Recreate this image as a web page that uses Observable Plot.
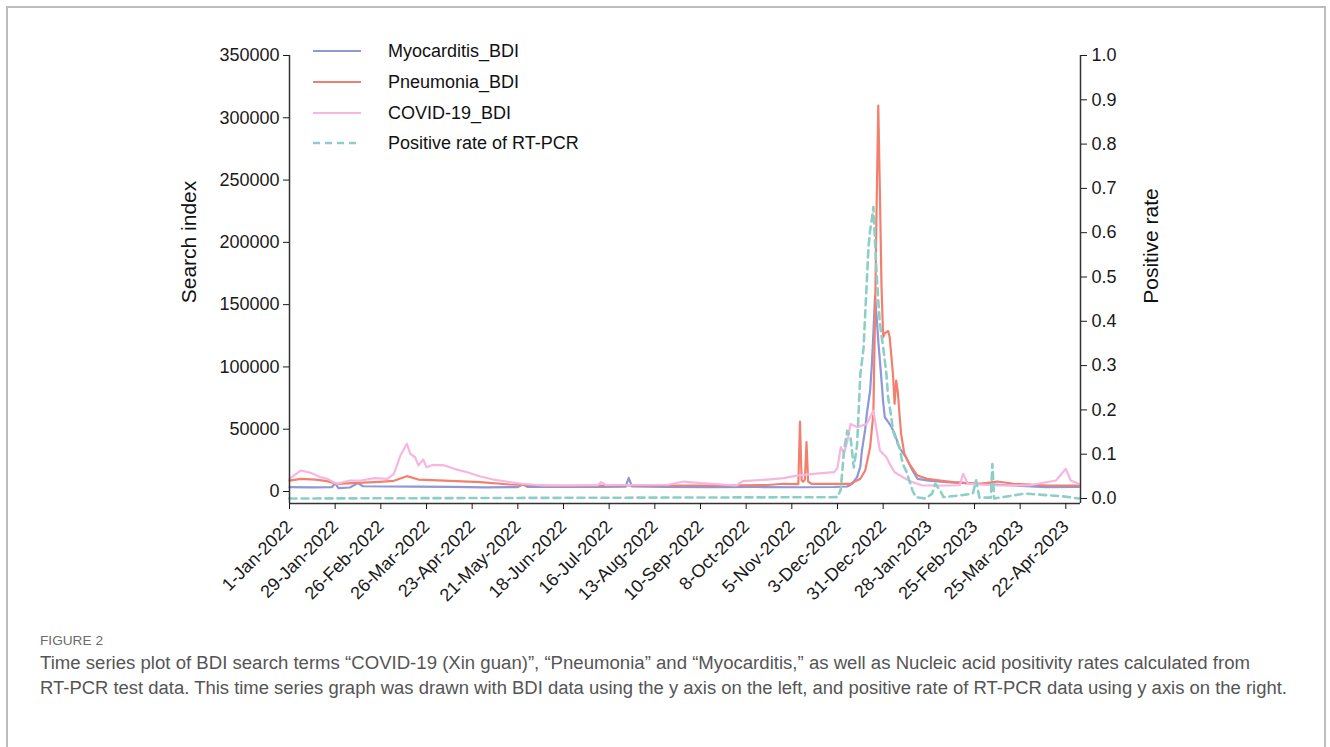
<!DOCTYPE html>
<html>
<head>
<meta charset="utf-8">
<script src="https://cdn.jsdelivr.net/npm/d3@7"></script>
<script src="https://cdn.jsdelivr.net/npm/@observablehq/plot@0.6"></script>
<style>
  html, body { margin: 0; padding: 0; background: #fff; }
  body { width: 1330px; height: 747px; position: relative; overflow: hidden; font-family: "Liberation Sans", Arial, sans-serif; }
  #border { position: absolute; left: 6px; top: 6px; width: 1316px; height: 780px; border: 2px solid #bdbdbd; }
  #chart { position: absolute; left: 0; top: 0; }
  .ytitle { position: absolute; font-size: 21px; color: #111; white-space: nowrap; transform: translate(-50%, -50%) rotate(-90deg); }
  #legend { position: absolute; left: 0; top: 0; }
  .leg-row { position: absolute; font-size: 18px; color: #111; white-space: nowrap; }
  #caption { position: absolute; left: 0; top: 620px; }
</style>
</head>
<body>
<div id="border"></div>
<div id="chart"></div>
<div id="legend"></div>
<svg id="caption" width="1330" height="110"></svg>
<script>
// ---------- data ----------
const seriesNames = ["Myocarditis_BDI", "Pneumonia_BDI", "COVID-19_BDI", "Positive rate of RT-PCR"];
const seriesColors = ["#8f97d6", "#f2806f", "#f6b6df", "#8dcfc6"];

const myocarditis = [
  ["2022-01-01",3500],["2022-01-15",3300],["2022-01-27",3400],["2022-01-29",6700],["2022-01-31",2700],
  ["2022-02-07",3200],["2022-02-12",6700],["2022-02-15",4200],["2022-03-01",4000],["2022-03-20",3900],
  ["2022-04-10",3700],["2022-05-01",3300],["2022-05-21",3500],["2022-05-24",5800],["2022-05-27",3600],
  ["2022-06-15",3700],["2022-07-10",3600],["2022-07-26",3800],["2022-07-28",11000],["2022-07-30",4000],
  ["2022-08-20",3700],["2022-09-15",3500],["2022-10-15",3600],["2022-11-10",3400],["2022-12-01",3600],
  ["2022-12-09",4000],["2022-12-12",6200],["2022-12-15",11500],["2022-12-17",20000],["2022-12-18",33000],
  ["2022-12-20",50000],["2022-12-21",62600],["2022-12-23",81000],["2022-12-24",100000],["2022-12-25",126800],
  ["2022-12-26",157000],["2022-12-27",140000],["2022-12-28",121000],["2022-12-29",105000],["2022-12-30",89000],
  ["2022-12-31",72000],["2023-01-01",59600],["2023-01-03",56000],["2023-01-05",52000],["2023-01-07",46500],
  ["2023-01-10",35000],["2023-01-14",27500],["2023-01-18",16900],["2023-01-21",10200],["2023-01-28",8800],
  ["2023-02-08",7500],["2023-02-28",6200],["2023-03-21",4800],["2023-04-10",3500],["2023-04-30",3600]
];

const pneumonia = [
  ["2022-01-01",8800],["2022-01-08",10200],["2022-01-17",9500],["2022-01-24",8300],["2022-01-30",6200],
  ["2022-02-12",7000],["2022-02-25",7800],["2022-03-06",8600],["2022-03-14",12300],["2022-03-21",9600],
  ["2022-04-06",8800],["2022-04-28",7500],["2022-05-16",5600],["2022-06-06",4800],["2022-06-16",4600],
  ["2022-07-15",4800],["2022-08-20",4800],["2022-09-20",4800],["2022-10-21",5200],["2022-10-31",6200],
  ["2022-11-09",6000],["2022-11-10",56200],["2022-11-11",9000],["2022-11-12",8000],["2022-11-13",9500],
  ["2022-11-14",39600],["2022-11-15",8000],["2022-11-17",6200],["2022-12-01",6200],["2022-12-11",6200],
  ["2022-12-17",10200],["2022-12-20",16900],["2022-12-23",35600],["2022-12-25",62600],["2022-12-26",140000],
  ["2022-12-27",230000],["2022-12-28",309800],["2022-12-29",240000],["2022-12-30",164000],["2022-12-31",124000],
  ["2023-01-01",127000],["2023-01-03",129000],["2023-01-04",124000],["2023-01-06",94500],["2023-01-07",70400],
  ["2023-01-08",89000],["2023-01-09",80000],["2023-01-10",62400],["2023-01-11",46300],["2023-01-13",30300],
  ["2023-01-16",22200],["2023-01-21",12800],["2023-01-27",10200],["2023-02-04",8800],["2023-02-12",7500],
  ["2023-02-28",6200],["2023-03-11",8000],["2023-03-21",6200],["2023-04-10",4800],["2023-04-30",4800]
];

const covid = [
  ["2022-01-01",10200],["2022-01-08",16900],["2022-01-14",15000],["2022-01-20",11500],["2022-01-24",10200],
  ["2022-01-30",6200],["2022-02-07",8800],["2022-02-14",8800],["2022-02-22",10700],["2022-03-02",10200],
  ["2022-03-06",14200],["2022-03-10",28900],["2022-03-14",38300],["2022-03-16",30300],["2022-03-19",27500],
  ["2022-03-21",20900],["2022-03-24",25700],["2022-03-26",19500],["2022-03-30",21400],["2022-04-06",20900],
  ["2022-04-12",18200],["2022-04-20",15500],["2022-04-28",12000],["2022-05-06",9600],["2022-05-14",8000],
  ["2022-05-23",6200],["2022-06-06",4800],["2022-06-16",4800],["2022-07-09",5000],["2022-07-11",7500],
  ["2022-07-14",5200],["2022-08-21",5400],["2022-08-31",8000],["2022-09-10",6700],["2022-10-02",4800],
  ["2022-10-06",8300],["2022-10-21",9600],["2022-10-31",10700],["2022-11-08",12800],["2022-11-18",14200],
  ["2022-12-01",15500],["2022-12-03",19000],["2022-12-05",35600],["2022-12-07",31000],["2022-12-09",40000],
  ["2022-12-11",54300],["2022-12-15",51600],["2022-12-21",54300],["2022-12-25",65000],["2022-12-27",49000],
  ["2022-12-29",32900],["2023-01-02",27500],["2023-01-04",22200],["2023-01-07",15500],["2023-01-12",11500],
  ["2023-01-18",7500],["2023-01-24",4800],["2023-02-08",4800],["2023-02-16",5000],["2023-02-18",14200],
  ["2023-02-21",6200],["2023-03-11",4800],["2023-03-31",5000],["2023-04-16",8800],["2023-04-22",18200],
  ["2023-04-25",8800],["2023-04-30",6200]
];

const positiveRate = [
  ["2022-01-01",0],["2022-12-03",0.003],["2022-12-05",0.02],["2022-12-07",0.108],["2022-12-09",0.153],
  ["2022-12-11",0.138],["2022-12-13",0.07],["2022-12-15",0.12],["2022-12-17",0.28],["2022-12-19",0.34],
  ["2022-12-20",0.417],["2022-12-21",0.492],["2022-12-22",0.567],["2022-12-23",0.605],["2022-12-24",0.628],
  ["2022-12-25",0.658],["2022-12-26",0.582],["2022-12-27",0.507],["2022-12-28",0.447],["2022-12-29",0.394],
  ["2022-12-31",0.342],["2023-01-02",0.281],["2023-01-03",0.229],["2023-01-05",0.184],["2023-01-06",0.153],
  ["2023-01-08",0.131],["2023-01-10",0.116],["2023-01-12",0.078],["2023-01-14",0.063],["2023-01-16",0.041],
  ["2023-01-18",0.018],["2023-01-20",0.003],["2023-01-26",0],["2023-01-30",0.011],["2023-02-01",0.033],
  ["2023-02-04",0.018],["2023-02-06",0.003],["2023-02-16",0.007],["2023-02-24",0.011],["2023-02-26",0.041],
  ["2023-02-28",0.002],["2023-03-07",0.002],["2023-03-08",0.078],["2023-03-09",0],["2023-03-28",0.011],
  ["2023-04-20",0.005],["2023-04-30",0]
];

const xTickDates = ["2022-01-01","2022-01-29","2022-02-26","2022-03-26","2022-04-23","2022-05-21",
  "2022-06-18","2022-07-16","2022-08-13","2022-09-10","2022-10-08","2022-11-05","2022-12-03",
  "2022-12-31","2023-01-28","2023-02-25","2023-03-25","2023-04-22"];
const leftTicks = [0, 50000, 100000, 150000, 200000, 250000, 300000, 350000];
const rightTicks = [0, 0.1, 0.2, 0.3, 0.4, 0.5, 0.6, 0.7, 0.8, 0.9, 1.0];
const leftTitle = "Search index";
const rightTitle = "Positive rate";
const figureLabel = "FIGURE 2";
const captionLines = [
  "Time series plot of BDI search terms \u201cCOVID-19 (Xin guan)\u201d, \u201cPneumonia\u201d and \u201cMyocarditis,\u201d as well as Nucleic acid positivity rates calculated from",
  "RT-PCR test data. This time series graph was drawn with BDI data using the y axis on the left, and positive rate of RT-PCR data using y axis on the right."
];

// ---------- scales ----------
const xStart = new Date("2022-01-01"), xEnd = new Date("2023-05-01");
const yMin = -9633, yMax = 350000;   // left axis (search index)
const rMin = -0.0113, rMax = 1.0;    // right axis (positive rate), same pixel range
const rToY = r => yMin + (r - rMin) / (rMax - rMin) * (yMax - yMin);
const yToR = y => rMin + (y - yMin) / (yMax - yMin) * (rMax - rMin);

const toRows = s => s.map(([d, v]) => ({date: new Date(d), value: v}));
const rateRows = positiveRate.map(([d, v]) => ({date: new Date(d), value: rToY(v)}));
const fmt = d3.utcFormat("%-d-%b-%Y");

const chart = Plot.plot({
  width: 1330,
  height: 620,
  marginLeft: 289,
  marginRight: 250,
  marginTop: 55,
  marginBottom: 117,
  x: {type: "utc", domain: [xStart, xEnd]},
  y: {domain: [yMin, yMax]},
  style: {fontFamily: "'Liberation Sans', Arial, sans-serif", fontSize: "18px", color: "#1a1a1a", background: "transparent", overflow: "visible"},
  marks: [
    Plot.lineY(toRows(myocarditis), {x: "date", y: "value", stroke: seriesColors[0], strokeWidth: 2.2}),
    Plot.lineY(toRows(pneumonia), {x: "date", y: "value", stroke: seriesColors[1], strokeWidth: 2.2}),
    Plot.lineY(toRows(covid), {x: "date", y: "value", stroke: seriesColors[2], strokeWidth: 2.2}),
    Plot.lineY(rateRows, {x: "date", y: "value", stroke: seriesColors[3], strokeWidth: 2.6, strokeDasharray: "7,5"}),
    Plot.ruleY([yMin], {stroke: "#333", strokeWidth: 1.5}),
    Plot.ruleX([xStart, xEnd], {stroke: "#333", strokeWidth: 1.5}),
    Plot.axisY(leftTicks, {anchor: "left", tickSize: 6, tickPadding: 4, label: null, fontSize: 18, tickFormat: d => String(d)}),
    Plot.axisY(rightTicks.map(rToY), {anchor: "right", tickSize: 6, tickPadding: 5, label: null, fontSize: 18, tickFormat: d => yToR(d).toFixed(1)}),
    Plot.axisX(xTickDates.map(d => new Date(d)), {anchor: "bottom", tickSize: 6, tickPadding: 14, tickRotate: -45, label: null, fontSize: 18, tickFormat: fmt})
  ]
});
document.getElementById("chart").appendChild(chart);

// ---------- axis titles ----------
function addTitle(text, cx, cy) {
  const el = document.createElement("div");
  el.className = "ytitle";
  el.textContent = text;
  el.style.left = cx + "px";
  el.style.top = cy + "px";
  document.body.appendChild(el);
}
addTitle(leftTitle, 189, 242);
addTitle(rightTitle, 1151, 246);

// ---------- legend ----------
const legend = document.getElementById("legend");
seriesNames.forEach((name, i) => {
  const y = 51 + i * 30.8;
  const row = document.createElement("div");
  row.className = "leg-row";
  row.style.left = "313px";
  row.style.top = (y - 11) + "px";
  const dash = i === 3 ? 'stroke-dasharray="7,5"' : "";
  row.innerHTML = `<svg width="50" height="22" style="vertical-align:top"><line x1="0" x2="48" y1="11" y2="11" stroke="${seriesColors[i]}" stroke-width="${i === 3 ? 2.6 : 2}" ${dash}/></svg><span style="position:absolute;left:75px;top:0;line-height:22px">${name}</span>`;
  legend.appendChild(row);
});

// ---------- caption ----------
const cap = d3.select("#caption");
cap.append("text").attr("x", 40).attr("y", 25).attr("fill", "#6b6b6b")
  .attr("font-family", "'Liberation Sans Narrow','Liberation Sans',Arial,sans-serif").attr("font-size", 13)
  .attr("textLength", 63).attr("lengthAdjust", "spacingAndGlyphs").text(figureLabel);
const lineLens = [1210, 1247];
captionLines.forEach((t, i) => {
  cap.append("text").attr("x", 40).attr("y", 49 + i * 25).attr("fill", "#555")
    .attr("font-family", "'Liberation Sans Narrow','Liberation Sans',Arial,sans-serif").attr("font-size", 18)
    .attr("textLength", lineLens[i]).attr("lengthAdjust", "spacingAndGlyphs").text(t);
});
</script>
</body>
</html>
